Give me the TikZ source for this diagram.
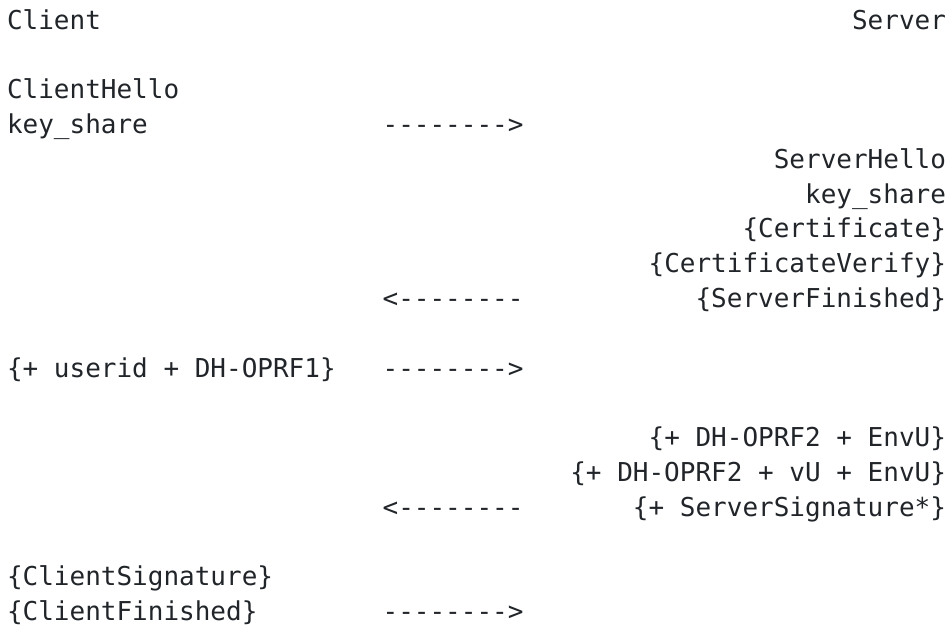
\documentclass[tikz,border=0pt]{standalone}
\usepackage{fontspec}
\setmonofont{DejaVu Sans Mono}
\definecolor{ink}{RGB}{33,37,41}
\begin{document}
\begin{tikzpicture}[x=1pt,y=-1pt,
  msg/.style={font=\fontsize{26}{30}\selectfont\ttfamily, text=ink,
              inner sep=0pt, outer sep=0pt},
  lft/.style={msg, anchor=base west},
  rgt/.style={msg, anchor=base east}]
\useasboundingbox (0,0) rectangle (949,627);
% monospace grid: column x = 7 + 15.65*c, row baseline y = 29 + 34.8*r
\def\colx#1{\fpeval{7+15.65*(#1)}}
\def\rowy#1{\fpeval{29+34.8*(#1)}}
\def\rightx{946}
% header
\node[lft] (client) at (\colx{0},\rowy{0}) {Client};
\node[rgt] (server) at (\rightx,\rowy{0}) {Server};
% first flight
\node[lft] (chello) at (\colx{0},\rowy{2}) {ClientHello};
\node[lft] (cks)    at (\colx{0},\rowy{3}) {key\_share};
\node[lft] (a1)     at (\colx{24},\rowy{3}) {-------->};
% server reply
\node[rgt] (shello) at (\rightx,\rowy{4}) {ServerHello};
\node[rgt] (sks)    at (\rightx,\rowy{5}) {key\_share};
\node[rgt] (cert)   at (\rightx,\rowy{6}) {\{Certificate\}};
\node[rgt] (cv)     at (\rightx,\rowy{7}) {\{CertificateVerify\}};
\node[rgt] (sfin)   at (\rightx,\rowy{8}) {\{ServerFinished\}};
\node[lft] (a2)     at (\colx{24},\rowy{8}) {<--------};
% OPRF request
\node[lft] (uid)    at (\colx{0},\rowy{10}) {\{+ userid + DH-OPRF1\}};
\node[lft] (a3)     at (\colx{24},\rowy{10}) {-------->};
% OPRF response
\node[rgt] (env)    at (\rightx,\rowy{12}) {\{+ DH-OPRF2 + EnvU\}};
\node[rgt] (envvu)  at (\rightx,\rowy{13}) {\{+ DH-OPRF2 + vU + EnvU\}};
\node[rgt] (ssig)   at (\rightx,\rowy{14}) {\{+ ServerSignature*\}};
\node[lft] (a4)     at (\colx{24},\rowy{14}) {<--------};
% client finish
\node[lft] (csig)   at (\colx{0},\rowy{16}) {\{ClientSignature\}};
\node[lft] (cfin)   at (\colx{0},\rowy{17}) {\{ClientFinished\}};
\node[lft] (a5)     at (\colx{24},\rowy{17}) {-------->};
\end{tikzpicture}
\end{document}
